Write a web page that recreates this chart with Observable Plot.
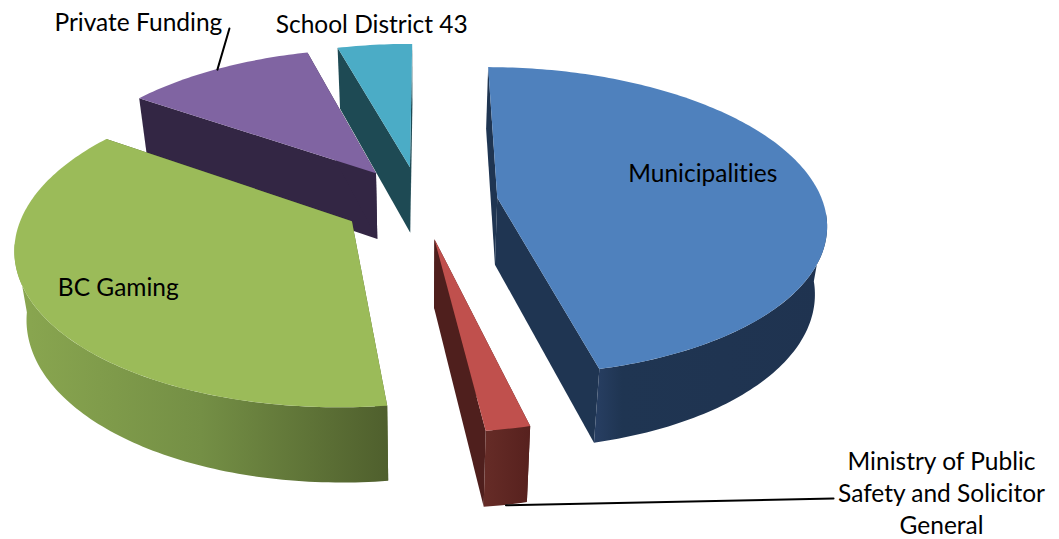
<!DOCTYPE html>
<html>
<head>
<meta charset="utf-8">
<style>html,body{margin:0;padding:0;background:#fff}svg{display:block}text{font-variant-ligatures:none}</style>
<script src="https://cdn.jsdelivr.net/npm/d3@7"></script>
<script src="https://cdn.jsdelivr.net/npm/@observablehq/plot@0.6"></script>
</head>
<body>
<div id="chart"></div>
<script>
// Data, clockwise from the top of the pie
const categories = ["Municipalities", "Ministry of Public Safety and Solicitor General", "BC Gaming", "Private Funding", "School District 43"];
const shares = [46.18, 1.82, 36.55, 11.08, 4.36];
const labels = ["Municipalities", "Ministry of Public\nSafety and Solicitor\nGeneral", "BC Gaming", "Private Funding", "School District 43"];

// Styles
const topColors = ["#4f81bd", "#c0504d", "#9bbb59", "#8064a2", "#4bacc6"];
const faceColors = ["#1f3552", "#4f1f1d", "#4f6228", "#332644", "#1e4a54"];
const wallFills = ["url(#wall0)", "url(#wall1)", "url(#wall2)", "#332644", "#1e4a54"];

// View of the 3-D pie
const W = 1059, H = 539;
const view = {cx: 420, cy: 202, rx: 325.5, ry: 151.6, persp: 0.151, depth: 67, depthPersp: 0.6, narrow: 0.97, explode: 0.24, startDeg: 0.2, frontFrom: 96, frontTo: 262};
const rad = (d) => d * Math.PI / 180;
const scaleAt = (v) => 1 / (1 + view.persp * v);
const project = (u, v, bottom = false) => {
  const s = scaleAt(v);
  const x = view.cx + view.rx * u * s;
  return {
    x: bottom ? view.cx + (x - view.cx) * view.narrow : x,
    y: view.cy - view.ry * v * s + (bottom ? view.depth * (1 + (s - 1) * view.depthPersp) : 0)
  };
};

// Slices built from the shares
const total = d3.sum(shares);
let run = view.startDeg;
const arcAngles = (from, to) => {
  const n = Math.max(4, Math.ceil(to - from));
  return d3.range(n + 1).map((k) => from + (to - from) * k / n);
};
const slices = categories.map((name, i) => {
  const a0 = run;
  const a1 = run + shares[i] / total * 360;
  run = a1;
  const mid = (a0 + a1) / 2;
  const ou = view.explode * Math.sin(rad(mid));
  const ov = view.explode * Math.cos(rad(mid));
  const rim = (deg, bottom) => project(ou + Math.sin(rad(deg)), ov + Math.cos(rad(deg)), bottom);
  const w0 = Math.max(a0, view.frontFrom), w1 = Math.min(a1, view.frontTo);
  return {i, name, a0, a1, mid, ou, ov, rim,
    angles: arcAngles(a0, a1),
    wallAngles: w1 > w0 ? arcAngles(w0, w1) : [],
    apexT: project(ou, ov, false), apexB: project(ou, ov, true)};
});

const band = (pairs, fill) => Plot.area(pairs, {
  x1: (d) => d[0].x, y1: (d) => d[0].y, x2: (d) => d[1].x, y2: (d) => d[1].y,
  fill, curve: "linear"
});

function sliceMarks(s) {
  const face = (deg) => [[s.apexT, s.rim(deg, false)], [s.apexB, s.rim(deg, true)]];
  return [
    band(face(s.a0), faceColors[s.i]),
    band(face(s.a1), faceColors[s.i]),
    band(s.wallAngles.map((a) => [s.rim(a, false), s.rim(a, true)]), wallFills[s.i]),
    band(s.angles.map((a) => [s.apexT, s.rim(a, false)]), topColors[s.i])
  ];
}

// Text and leader placement in the pie's ground plane
const textFont = "Lato";
const textSize = 24.5;
const labelSpots = [[0.893, 0.197], [1.241, -1.488], [-0.856, -0.517], [-1.056, 1.446], [-0.182, 1.426]];
const labelRows = labels.map((text, i) => ({text, ...project(...labelSpots[i])}));
const leaderRows = [
  {slice: 1, bottom: true, end: [0.98, -1.508]},
  {slice: 3, bottom: false, end: [-0.71, 1.388]}
].map(({slice, bottom, end}) => [slices[slice].rim(slices[slice].mid, bottom), project(...end)]);

const defs = () => {
  const g = d3.create("svg:defs");
  g.html(`
    <linearGradient id="wall0"><stop offset="0" stop-color="#283f63"/><stop offset="0.12" stop-color="#1f3552"/><stop offset="1" stop-color="#1f3350"/></linearGradient>
    <linearGradient id="wall1"><stop offset="0" stop-color="#662c27"/><stop offset="1" stop-color="#57211e"/></linearGradient>
    <linearGradient id="wall2"><stop offset="0" stop-color="#8aa750"/><stop offset="0.5" stop-color="#748f45"/><stop offset="1" stop-color="#4f5f2d"/></linearGradient>`);
  return g.node();
};

const order = [4, 3, 2, 0, 1];
const chart = Plot.plot({
  width: W, height: H,
  margin: 0,
  x: {domain: [0, W], range: [0, W], axis: null},
  y: {domain: [0, H], range: [0, H], axis: null},
  style: {background: "white"},
  marks: [
    defs,
    ...order.flatMap((i) => sliceMarks(slices[i])),
    ...leaderRows.map((seg) => Plot.line(seg, {x: "x", y: "y", stroke: "black", strokeWidth: 2})),
    Plot.text(labelRows, {
      x: "x", y: "y", text: "text", dy: -2,
      textAnchor: "middle", lineAnchor: "middle",
      fontFamily: textFont, fontSize: textSize, lineHeight: 32 / textSize,
      fill: "black", stroke: "none"
    })
  ]
});
document.getElementById("chart").append(chart);
</script>
</body>
</html>
